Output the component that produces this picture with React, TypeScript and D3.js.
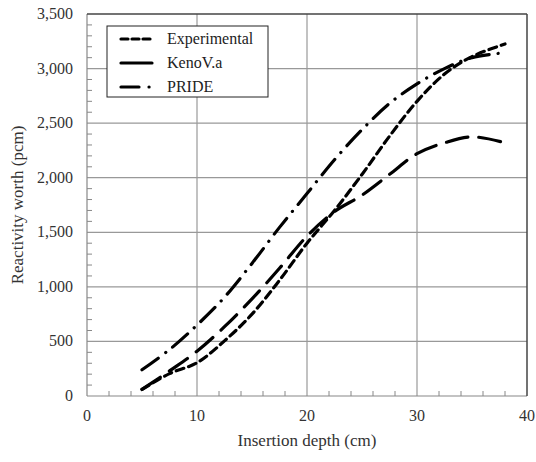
import React from 'react'
import * as d3 from 'd3'

const depth = [5, 7.5, 10, 12.5, 15, 17.5, 20, 22.5, 25, 27.5, 30, 32.5, 35, 38]
const experimental = [60, 205, 305, 505, 750, 1060, 1400, 1700, 2030, 2380, 2700, 2950, 3110, 3225]
const kenoVa = [60, 230, 410, 635, 890, 1170, 1465, 1690, 1840, 2030, 2220, 2320, 2375, 2320]
const pride = [240, 425, 650, 905, 1215, 1545, 1855, 2165, 2440, 2680, 2860, 3000, 3100, 3145]

const seriesNames = ['Experimental', 'KenoV.a', 'PRIDE']
const xTicks = [0, 10, 20, 30, 40]
const yTicks = [0, 500, 1000, 1500, 2000, 2500, 3000, 3500]

const width = 536, height = 462
const left = 87, right = 527, top = 14, bottom = 396
const font = 'Liberation Serif, DejaVu Serif, serif'

// dash style per series
const dashes = ['8,5', '22,11', '20,9,0.1,9']

export default function App() {
  const x = d3.scaleLinear().domain([0, 40]).range([left, right])
  const y = d3.scaleLinear().domain([0, 3500]).range([bottom, top])
  const line = d3.line<[number, number]>()
    .x(d => x(d[0]))
    .y(d => y(d[1]))
    .curve(d3.curveCatmullRom)

  const all = [experimental, kenoVa, pride].map(vals => depth.map((d, i) => [d, vals[i]] as [number, number]))
  const minorY = d3.range(0, 3501, 100).filter(v => v % 500 !== 0)
  const minorX = d3.range(0, 41, 2).filter(v => v % 10 !== 0)
  const fmt = d3.format(',')

  return (
    <svg width={width} height={height} style={{ position: 'absolute', left: 0, top: 0, background: '#fff', fontFamily: font }}>
      {/* grid */}
      {xTicks.slice(1, -1).map(t => (
        <line key={'gx' + t} x1={x(t)} x2={x(t)} y1={top} y2={bottom} stroke="#999" strokeWidth={1.2} />
      ))}
      {yTicks.slice(1, -1).map(t => (
        <line key={'gy' + t} x1={left} x2={right} y1={y(t)} y2={y(t)} stroke="#999" strokeWidth={1.2} />
      ))}
      {minorY.map(t => (
        <line key={'my' + t} x1={left} x2={left + 5} y1={y(t)} y2={y(t)} stroke="#888" strokeWidth={1} />
      ))}
      {minorX.map(t => (
        <line key={'mx' + t} x1={x(t)} x2={x(t)} y1={bottom} y2={bottom - 5} stroke="#888" strokeWidth={1} />
      ))}
      <line x1={left} x2={left} y1={top} y2={bottom} stroke="#888" strokeWidth={1.2} />
      <line x1={left} x2={right} y1={bottom} y2={bottom} stroke="#888" strokeWidth={1.2} />
      <line x1={left} x2={right} y1={top} y2={top} stroke="#444" strokeWidth={1.5} />
      <line x1={right} x2={right} y1={top} y2={bottom} stroke="#444" strokeWidth={1.5} />

      {/* tick labels */}
      {yTicks.map(t => (
        <text key={'ly' + t} x={left - 14} y={y(t) + 5} textAnchor="end" style={{ fontFamily: font }} fontSize={16} fill="#333">{fmt(t)}</text>
      ))}
      {xTicks.map(t => (
        <text key={'lx' + t} x={x(t)} y={bottom + 25} textAnchor="middle" style={{ fontFamily: font }} fontSize={16} fill="#333">{t}</text>
      ))}
      <text x={(left + right) / 2} y={446} textAnchor="middle" style={{ fontFamily: font }} fontSize={17} fill="#333">Insertion depth (cm)</text>
      <text transform={`translate(23,${(top + bottom) / 2}) rotate(-90)`} textAnchor="middle" style={{ fontFamily: font }} fontSize={17} fill="#333">Reactivity worth (pcm)</text>

      {/* series */}
      {all.map((pts, i) => (
        <path key={'s' + i} d={line(pts) || ''} fill="none" stroke="#000" strokeWidth={3.2}
          strokeDasharray={dashes[i]} strokeLinecap="round" />
      ))}

      {/* legend */}
      <rect x={107} y={26} width={161} height={71} fill="#fff" stroke="#222" strokeWidth={1} />
      {seriesNames.map((name, i) => {
        const ly = 39 + i * 24
        return (
          <g key={'lg' + i}>
            <line x1={121} x2={152} y1={ly} y2={ly} stroke="#000" strokeWidth={3.2} strokeLinecap="round"
              strokeDasharray={i === 0 ? '7,4' : i === 1 ? '' : '18,10,0.1,20'} />
            <text x={167} y={ly + 5} style={{ fontFamily: font }} fontSize={16} fill="#222">{name}</text>
          </g>
        )
      })}
    </svg>
  )
}
